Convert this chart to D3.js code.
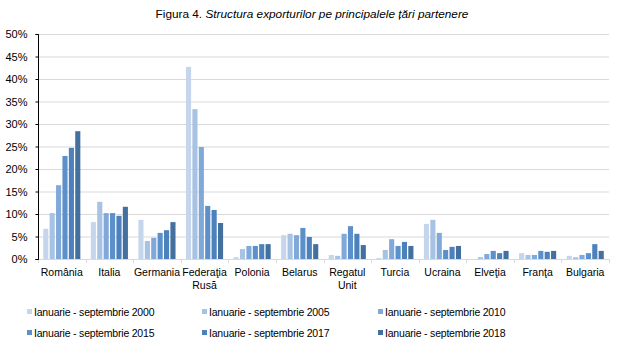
<!DOCTYPE html>
<html><head><meta charset="utf-8">
<script src="https://cdn.jsdelivr.net/npm/d3@7"></script>
<style>body{margin:0;background:#fff}svg{display:block;font-family:"Liberation Sans",Arial,sans-serif}</style>
</head><body><svg id="c" width="617" height="346"></svg>
<script>
const categories = ["România","Italia","Germania","Federația Rusă","Polonia","Belarus","Regatul Unit","Turcia","Ucraina","Elveția","Franța","Bulgaria"];
const categoryLines = [["România"],["Italia"],["Germania"],["Federaţia","Rusă"],["Polonia"],["Belarus"],["Regatul","Unit"],["Turcia"],["Ucraina"],["Elveţia"],["Franţa"],["Bulgaria"]];
const seriesNames = ["Ianuarie - septembrie 2000","Ianuarie - septembrie 2005","Ianuarie - septembrie 2010","Ianuarie - septembrie 2015","Ianuarie - septembrie 2017","Ianuarie - septembrie 2018"];
const s2000 = [6.7, 8.2, 8.7, 42.7, 0.4, 5.3, 0.9, 0.2, 7.8, 0.0, 1.3, 0.7];
const s2005 = [10.2, 12.7, 4.0, 33.3, 2.2, 5.6, 0.7, 2.0, 8.7, 0.4, 0.9, 0.4];
const s2010 = [16.4, 10.2, 4.7, 24.9, 2.9, 5.3, 5.6, 4.4, 5.8, 1.1, 0.9, 0.9];
const s2015 = [22.9, 10.2, 5.8, 11.8, 2.9, 6.9, 7.3, 2.9, 2.0, 1.8, 1.8, 1.3];
const s2017 = [24.7, 9.6, 6.4, 10.9, 3.3, 4.9, 5.6, 3.8, 2.7, 1.3, 1.6, 3.3];
const s2018 = [28.4, 11.6, 8.2, 8.0, 3.3, 3.3, 3.1, 2.9, 2.9, 1.8, 1.8, 1.8];
const yTicks = [0,5,10,15,20,25,30,35,40,45,50];
const titleNormal = "Figura 4. ";
const titleItalic = "Structura exporturilor pe principalele țări partenere";
const colors = ["#C5D6EC","#A7C2E3","#80A9DA","#5C90CB","#4D81BC","#43709F"];

const series = [s2000,s2005,s2010,s2015,s2017,s2018];
const svg = d3.select("#c");
const pLeft = 38, pRight = 609, pTop = 34, pBottom = 259;

const x = d3.scaleBand().domain(categories).range([pLeft,pRight]).paddingInner(0.22).paddingOuter(0.11);
const xs = d3.scaleBand().domain(d3.range(6)).range([0,x.bandwidth()]).paddingInner(0.2);
const y = d3.scaleLinear().domain([0,50]).range([pBottom,pTop]);

// title
const t = svg.append("text").attr("x",312).attr("y",18).attr("text-anchor","middle").attr("font-size",11.8).attr("fill","#000");
t.append("tspan").text(titleNormal);
t.append("tspan").attr("font-style","italic").text(titleItalic);

// gridlines
svg.append("g").selectAll("line").data(yTicks.filter(d=>d>0)).join("line")
  .attr("x1",pLeft).attr("x2",pRight).attr("y1",d=>y(d)+0.5).attr("y2",d=>y(d)+0.5)
  .attr("stroke","#d9d9d9").attr("stroke-width",1);

// bars
const gCat = svg.append("g").selectAll("g").data(categories).join("g")
  .attr("transform",d=>`translate(${x(d)},0)`);
gCat.selectAll("rect").data((c,i)=>series.map((s,k)=>({k,v:s[i]}))).join("rect")
  .attr("x",d=>xs(d.k)).attr("width",xs.bandwidth())
  .attr("y",d=>y(d.v)).attr("height",d=>pBottom-y(d.v))
  .attr("fill",d=>colors[d.k]);

// x axis baseline and ticks at category boundaries
const step = x.step();
const bounds = d3.range(13).map(i=>pLeft+i*step);
svg.append("line").attr("x1",pLeft).attr("x2",pRight).attr("y1",pBottom+0.5).attr("y2",pBottom+0.5).attr("stroke","#d9d9d9");
svg.append("g").selectAll("line").data(bounds).join("line")
  .attr("x1",d=>Math.round(d)+0.5).attr("x2",d=>Math.round(d)+0.5).attr("y1",pBottom).attr("y2",pBottom+4)
  .attr("stroke","#d9d9d9");

// category labels
const lab = svg.append("g").selectAll("text").data(categories).join("text")
  .attr("x",d=>x(d)+x.bandwidth()/2).attr("y",276).attr("text-anchor","middle").attr("font-size",10.5).attr("fill","#000");
lab.each(function(d,i){
  const sel = d3.select(this);
  categoryLines[i].forEach((ln,j)=>{
    sel.append("tspan").attr("x",x(d)+x.bandwidth()/2).attr("dy",j===0?0:13).text(ln);
  });
});

// y axis
const yAxis = d3.axisLeft(y).tickValues(yTicks).tickSize(3).tickPadding(8).tickFormat(d=>d+"%");
const ya = svg.append("g").attr("transform",`translate(${pLeft+0.5},0)`).call(yAxis);
ya.select(".domain").attr("stroke","#000").attr("d",`M-3,${pTop+0.5}H0V${pBottom+0.5}H-3`);
ya.selectAll(".tick line").attr("stroke","#000");
ya.selectAll(".tick text").attr("font-size",11).attr("fill","#000").attr("font-family","Liberation Sans, Arial, sans-serif");

// legend
const legX = [27,202,378], legY = [312,333];
const leg = svg.append("g").selectAll("g").data(seriesNames).join("g")
  .attr("transform",(d,i)=>`translate(${legX[i%3]},${legY[Math.floor(i/3)]})`);
leg.append("rect").attr("x",0).attr("y",-3).attr("width",5).attr("height",5).attr("fill",(d,i)=>colors[i]);
leg.append("text").attr("x",7).attr("y",4).attr("font-size",10.5).attr("letter-spacing",-0.2).attr("fill","#000").text(d=>d);
</script></body></html>
